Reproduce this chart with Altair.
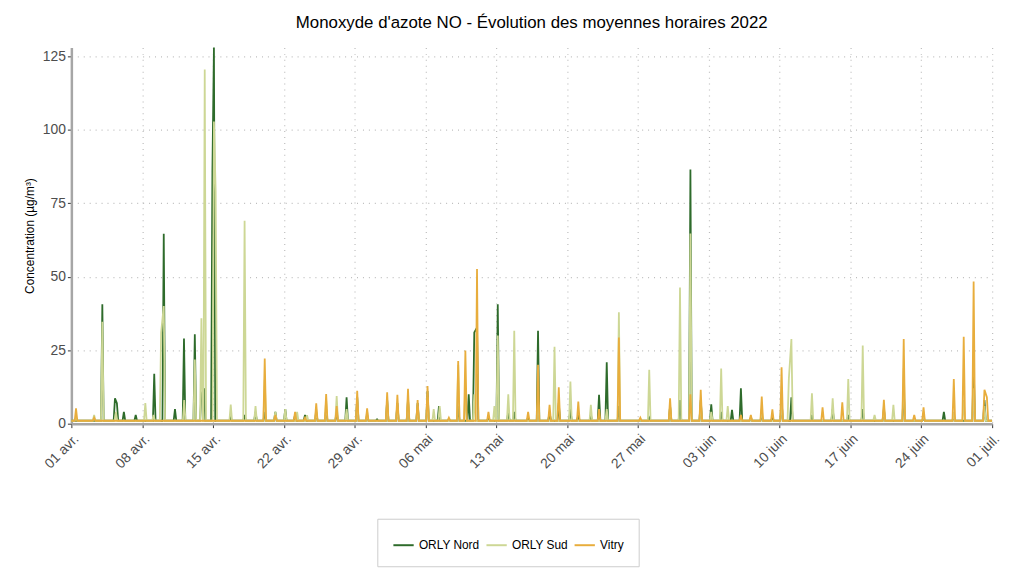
import altair as alt
import pandas as pd

# Peak times (days since 2022-04-01 00:00) and hourly NO peak values (µg/m³)
nord_days = [3.06, 4.31, 4.50, 5.19, 6.36, 8.19, 9.13, 10.24, 11.13, 12.20, 12.85, 13.11,
             13.94, 14.09, 15.75, 17.12, 18.20, 19.11, 20.16, 21.14, 22.11, 23.09, 24.20,
             25.18, 26.22, 27.20, 28.25, 29.23, 30.21, 31.21, 32.22, 33.27, 34.22, 35.20,
             36.33, 37.31, 38.23, 39.27, 39.82, 40.09, 41.22, 42.14, 43.18, 43.77, 45.14,
             46.12, 47.26, 48.17, 49.32, 50.10, 51.34, 52.15, 52.91, 54.11, 56.23, 57.11,
             59.17, 60.15, 61.18, 62.20, 63.24, 64.22, 65.29, 66.17, 67.15, 68.23, 69.28,
             70.19, 71.16, 73.19, 75.24, 76.78, 78.21, 80.30, 82.26, 84.22, 86.23, 87.21,
             89.17, 90.24]
nord_vals = [40.6, 8.6, 7.0, 4.0, 3.0, 17.0, 64.6, 5.0, 29.0, 30.4, 10.0, 12.0,
             85.8, 128.0, 2.0, 3.0, 4.0, 4.0, 4.0, 5.0, 3.0, 3.0, 4.0,
             5.0, 4.0, 9.0, 9.0, 3.0, 1.5, 8.0, 7.0, 8.0, 7.0, 11.1,
             6.0, 1.5, 6.0, 10.0, 31.0, 32.7, 2.0, 40.6, 4.0, 4.0, 2.0,
             31.6, 4.0, 7.0, 5.0, 3.0, 3.0, 9.8, 20.9, 6.0, 1.0, 2.0,
             6.0, 8.0, 86.5, 8.0, 6.6, 4.0, 4.7, 12.0, 2.0, 3.0, 2.0,
             8.0, 9.0, 3.0, 5.0, 3.0, 5.0, 5.0, 12.0, 2.0, 4.0, 3.0,
             20.9, 8.0]

sud_days = [0.46, 2.25, 3.06, 4.40, 7.31, 8.12, 8.87, 9.13, 11.15, 12.20, 12.85, 13.18,
            14.09, 14.26, 15.75, 17.12, 18.20, 19.11, 20.16, 21.14, 22.31, 23.29, 24.20,
            25.18, 26.22, 27.20, 28.25, 29.23, 31.21, 32.22, 33.27, 34.22, 35.20, 35.81,
            36.40, 38.23, 38.94, 39.82, 41.81, 42.14, 43.18, 43.77, 46.12, 47.75, 49.32,
            51.34, 52.91, 54.11, 57.11, 59.17, 60.15, 61.18, 62.20, 63.24, 64.22, 64.87,
            67.15, 68.23, 70.19, 70.91, 71.16, 73.19, 75.24, 76.78, 78.21, 79.38, 80.30,
            81.24, 82.26, 84.22, 87.21, 88.19, 89.17, 90.24]
sud_vals = [2.0, 3.0, 34.7, 4.0, 7.0, 3.0, 31.0, 40.0, 8.0, 21.8, 35.9, 120.5,
            102.8, 79.0, 6.5, 69.0, 6.0, 15.0, 4.0, 5.0, 4.0, 2.9, 5.0,
            8.0, 9.4, 5.0, 8.0, 4.0, 7.0, 6.0, 9.0, 6.0, 9.0, 5.0,
            6.0, 20.0, 12.0, 10.0, 6.0, 30.0, 10.0, 31.6, 8.0, 26.2, 14.3,
            6.4, 5.0, 37.9, 18.3, 6.0, 46.3, 64.7, 7.0, 4.0, 18.8, 6.0,
            2.0, 5.0, 8.0, 15.4, 28.8, 10.3, 8.6, 15.2, 26.6, 3.0, 6.0,
            6.4, 19.0, 3.0, 4.0, 8.0, 12.0, 6.0]

vitry_days = [0.46, 2.25, 19.11, 20.16, 22.11, 23.09, 24.20, 25.18, 26.22, 28.25, 29.23,
              31.21, 32.22, 33.27, 34.22, 35.20, 37.31, 38.23, 38.94, 40.09, 41.22, 45.14,
              46.12, 47.26, 48.17, 50.10, 52.15, 54.11, 56.23, 59.17, 61.18, 62.20, 66.17,
              67.15, 68.23, 69.28, 70.19, 74.24, 76.19, 80.30, 82.26, 83.30, 84.22, 87.21,
              88.19, 89.17, 90.24, 90.48]
vitry_vals = [5.2, 2.0, 22.2, 3.0, 4.0, 2.0, 6.9, 10.1, 6.0, 11.2, 5.2,
              10.7, 9.8, 11.9, 8.0, 12.8, 2.0, 21.3, 24.9, 52.6, 4.0, 4.0,
              20.0, 6.4, 12.4, 7.5, 5.0, 29.3, 2.0, 8.6, 10.0, 11.5, 3.0,
              3.0, 9.2, 4.9, 19.2, 5.6, 7.3, 8.1, 28.8, 3.0, 5.6, 15.2,
              29.6, 48.4, 11.5, 9.0]

base_level = 1.0
series = ["ORLY Nord", "ORLY Sud", "Vitry"]
colors = ["#2e6b2b", "#cdd795", "#e8ad3c"]

start = pd.Timestamp("2022-04-01 00:00")
rows = []
for name, days, vals in [("ORLY Nord", nord_days, nord_vals),
                         ("ORLY Sud", sud_days, sud_vals),
                         ("Vitry", vitry_days, vitry_vals)]:
    pts = [(0.0, base_level)]
    for i, (d, v) in enumerate(zip(days, vals)):
        prev_d = days[i - 1] if i > 0 else -1.0
        if d - prev_d > 0.3:
            pts.append((d - 0.13, base_level))
        pts.append((d, v))
        nxt = days[i + 1] if i + 1 < len(days) else 100.0
        if nxt - d > 0.3:
            pts.append((d + 0.13, base_level))
    pts.append((90.99, base_level))
    for d, v in pts:
        rows.append({"station": name,
                     "time": start + pd.to_timedelta(d, unit="D"),
                     "value": v})
df = pd.DataFrame(rows)

tick_dates = [alt.DateTime(year=2022, month=4, date=1),
              alt.DateTime(year=2022, month=4, date=8),
              alt.DateTime(year=2022, month=4, date=15),
              alt.DateTime(year=2022, month=4, date=22),
              alt.DateTime(year=2022, month=4, date=29),
              alt.DateTime(year=2022, month=5, date=6),
              alt.DateTime(year=2022, month=5, date=13),
              alt.DateTime(year=2022, month=5, date=20),
              alt.DateTime(year=2022, month=5, date=27),
              alt.DateTime(year=2022, month=6, date=3),
              alt.DateTime(year=2022, month=6, date=10),
              alt.DateTime(year=2022, month=6, date=17),
              alt.DateTime(year=2022, month=6, date=24),
              alt.DateTime(year=2022, month=7, date=1)]

month_expr = ("timeFormat(datum.value, '%d') + ' ' + "
              "['janv.','févr.','mars','avr.','mai','juin','juil.','août','sept.','oct.','nov.','déc.']"
              "[month(datum.value)]")

chart = alt.Chart(df).mark_line(strokeWidth=1.8, interpolate="linear").encode(
    x=alt.X("time:T",
            scale=alt.Scale(domain=[alt.DateTime(year=2022, month=4, date=1),
                                    alt.DateTime(year=2022, month=7, date=1)]),
            axis=alt.Axis(title=None, values=tick_dates, labelExpr=month_expr,
                          labelAngle=-45, labelAlign="right", labelBaseline="top",
                          labelFontSize=14, labelColor="#4d4d4d", labelFont="Liberation Sans",
                          tickColor="#333333", tickSize=4, domainColor="#a6a6a6",
                          domainWidth=2.5, grid=True, gridColor="#bdbdbd",
                          gridDash=[1, 5], gridWidth=1.2, labelPadding=4)),
    y=alt.Y("value:Q",
            scale=alt.Scale(domain=[0, 128], nice=False, zero=True),
            axis=alt.Axis(title="Concentration (µg/m³)", values=[0, 25, 50, 75, 100, 125],
                          titleFontSize=12, titleFontWeight="normal", titleColor="#000000",
                          titleFont="Liberation Sans", titlePadding=6,
                          labelFontSize=14, labelColor="#4d4d4d", labelFont="Liberation Sans",
                          tickColor="#333333", tickSize=4, domainColor="#a6a6a6",
                          domainWidth=2.5, grid=True, gridColor="#bdbdbd",
                          gridDash=[1, 5], gridWidth=1.2)),
    color=alt.Color("station:N",
                    scale=alt.Scale(domain=series, range=colors),
                    legend=alt.Legend(title=None, orient="none", direction="horizontal",
                                      legendX=309, legendY=476,
                                      symbolType="stroke", symbolStrokeWidth=2,
                                      symbolSize=420, labelFontSize=12,
                                      labelFont="Liberation Sans", labelColor="#000000",
                                      columnPadding=2, padding=15,
                                      strokeColor="#cccccc")),
    order=alt.Order("time:T"),
).properties(
    width=930, height=380,
    padding={"left": 15, "top": 3, "right": 5, "bottom": 5},
    title=alt.TitleParams("Monoxyde d'azote NO - Évolution des moyennes horaires 2022",
                          fontSize=17, fontWeight="normal", font="Liberation Sans",
                          color="#000000", anchor="middle", offset=12),
).configure_view(stroke=None)

chart.save("out.html", embed_options={"renderer": "svg", "actions": False})
